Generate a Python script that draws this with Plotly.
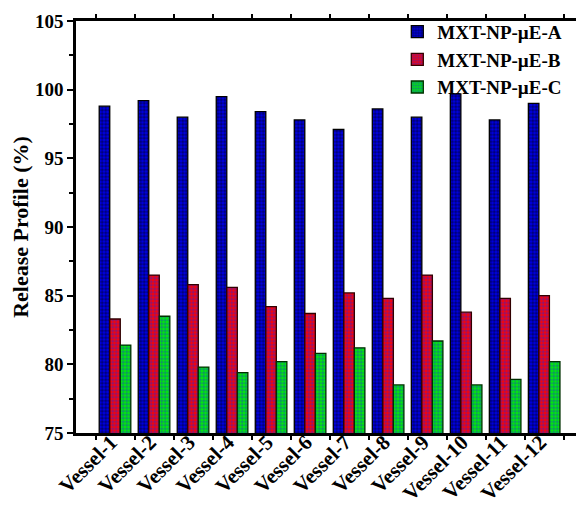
import plotly.graph_objects as go

vessels = [f"Vessel-{i}" for i in range(1, 13)]
series_names = ["MXT-NP-µE-A", "MXT-NP-µE-B", "MXT-NP-µE-C"]
vals_a = [98.8, 99.2, 98.0, 99.5, 98.4, 97.8, 97.1, 98.6, 98.0, 99.7, 97.8, 99.0]
vals_b = [83.3, 86.5, 85.8, 85.6, 84.2, 83.7, 85.2, 84.8, 86.5, 83.8, 84.8, 85.0]
vals_c = [81.4, 83.5, 79.8, 79.4, 80.2, 80.8, 81.2, 78.5, 81.7, 78.5, 78.9, 80.2]

styles = [
    dict(bg="#0000e8", fg="#000010", line="#000000"),
    dict(bg="#ff0000", fg="#2828d8", line="#300000"),
    dict(bg="#00f000", fg="#1e3ccc", line="#003000"),
]

font_family = "Liberation Serif, Times New Roman, serif"

fig = go.Figure()
for name, vals, st in zip(series_names, [vals_a, vals_b, vals_c], styles):
    fig.add_trace(go.Bar(
        x=vessels, y=vals, name=name,
        marker=dict(
            color=st["bg"],
            line=dict(color=st["line"], width=1.3),
            pattern=dict(shape=".", fgcolor=st["fg"], bgcolor=st["bg"],
                         size=3.5, solidity=0.6, fillmode="overlay"),
        ),
    ))

# page body has an 8px margin, so the figure is sized to fit the window
fig.update_layout(
    width=576, height=497,
    margin=dict(l=68, r=2, t=13, b=72),
    paper_bgcolor="white", plot_bgcolor="white",
    barmode="group", bargap=0.19, bargroupgap=0,
    font=dict(family=font_family, color="black"),
    showlegend=True,
    legend=dict(
        x=0.635, y=1.02, xanchor="left", yanchor="top",
        font=dict(family=font_family, size=19, color="black", weight="bold"),
        bgcolor="rgba(255,255,255,0)", tracegroupgap=0,
    ),
)
fig.update_xaxes(
    type="category", range=[-1, 11.97], automargin=False,
    showline=True, linecolor="black", linewidth=2.5, mirror="ticks",
    ticks="outside", ticklen=4, tickwidth=2, tickcolor="black",
    tickson="boundaries",
    tickangle=-45,
    ticklabelstandoff=-14, ticklabelshift=-4,
    tickfont=dict(family=font_family, size=21, color="black", weight="bold"),
    showgrid=False, zeroline=False,
)
fig.update_yaxes(
    range=[75, 105], dtick=5, automargin=False,
    showline=True, linecolor="black", linewidth=2.5, mirror=True,
    ticks="outside", ticklen=6, tickwidth=2, tickcolor="black",
    minor=dict(dtick=2.5, ticks="outside", ticklen=4, tickwidth=2, tickcolor="black"),
    tickfont=dict(family=font_family, size=19, color="black", weight="bold"),
    title=dict(text="Release Profile (%)", standoff=12,
               font=dict(family=font_family, size=22, color="black", weight="bold")),
    showgrid=False, zeroline=False,
)

fig.write_html("out.html")
